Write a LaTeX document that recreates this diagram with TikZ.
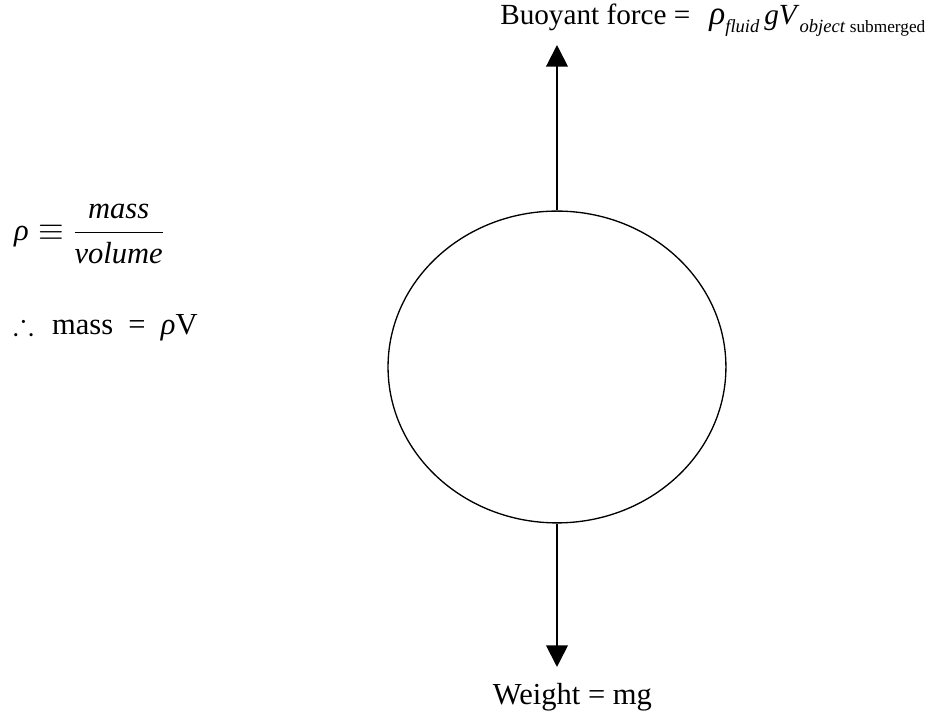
\documentclass[tikz,border=0pt]{standalone}
\usepackage{amsmath,amssymb}
\usepackage{fontspec}
\setmainfont{Liberation Serif}
\usetikzlibrary{shapes.geometric,arrows.meta}

\newcommand{\lowsub}[2]{\raisebox{-0.25em}{\fontsize{#1}{#1}\selectfont #2}}

\begin{document}
\begin{tikzpicture}[
  force/.style={line width=1.5pt, -{Triangle[length=5.7mm,width=5.7mm]}},
  lbl/.style={inner sep=0pt, font=\fontsize{23}{28}\selectfont}]
\useasboundingbox (-14.737,-9.181) rectangle (10.081,9.710);
\node[draw, ellipse, line width=1pt, minimum width=8.94cm, minimum height=8.25cm, inner sep=0pt] (ball) at (0,0) {};
\coordinate (up) at (0,8.519);
\coordinate (down) at (0,-7.937);
\node[lbl, anchor=base west, font=\fontsize{22}{26}\selectfont] (buoy) at (-1.508,9.049) {Buoyant force =\hspace{0.65em}{\fontsize{25}{30}\selectfont\textit{ρ}}\lowsub{14}{\itshape fluid}\,\textit{gV}\lowsub{14}{\itshape object}\,\lowsub{13}{submerged}};
\node[lbl, anchor=base] (weight) at (0.41,-8.943) {Weight = mg};
\node[lbl, anchor=base west] (density) at (-14.367,3.334) {$\textit{ρ}\equiv\dfrac{\textit{mass}}{\textit{volume}}$};
\node[lbl, anchor=base west] (mass) at (-14.39,0.847) {$\therefore$\hspace{0.6em}mass\hspace{0.5em}=\hspace{0.5em}\textit{ρ}V};
\draw[force] (ball.north) -- (up);
\draw[force] (ball.south) -- (down);
\end{tikzpicture}
\end{document}
